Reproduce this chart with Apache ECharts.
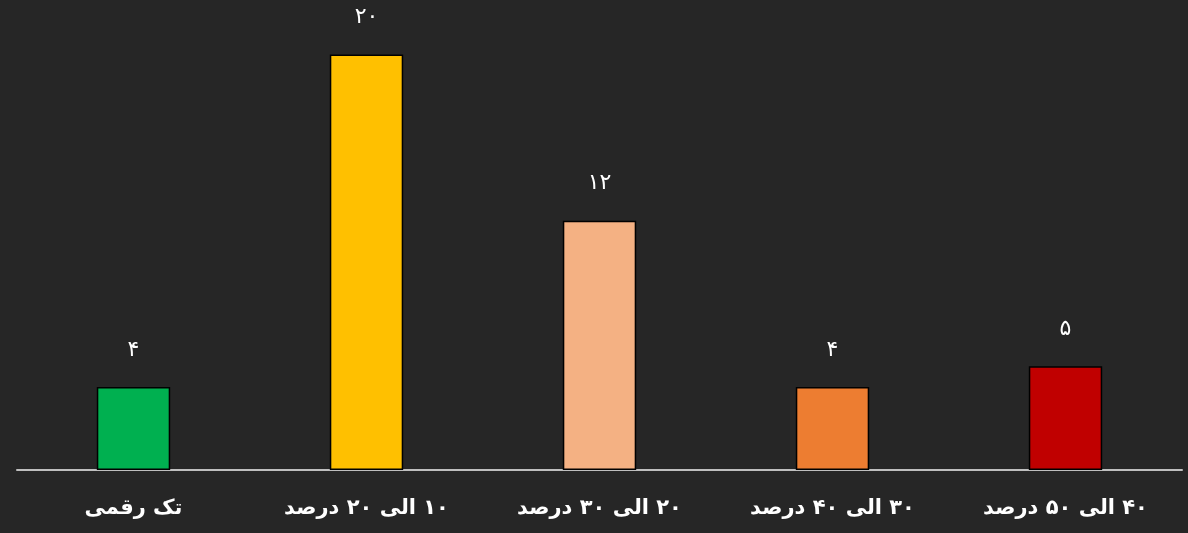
<!DOCTYPE html>
<html>
<head>
<meta charset="utf-8">
<script src="https://cdn.jsdelivr.net/npm/echarts@6/dist/echarts.min.js"></script>
<style>
html,body{margin:0;padding:0;background:#262626;}
#c{width:1188px;height:533px;}
</style>
</head>
<body>
<div id="c" dir="rtl"></div>
<script>
const categories = ["تک رقمی", "۱۰ الی ۲۰ درصد", "۲۰ الی ۳۰ درصد", "۳۰ الی ۴۰ درصد", "۴۰ الی ۵۰ درصد"];
const values = [4, 20, 12, 4, 5];
const colors = ["#00B050", "#FFC000", "#F4B183", "#ED7D31", "#C00000"];

function fa(n){ return String(n).replace(/[0-9]/g, d => "۰۱۲۳۴۵۶۷۸۹"[d]); }

const chart = echarts.init(document.getElementById('c'));
chart.setOption({
  backgroundColor: '#262626',
  animation: false,
  grid: {left: 17, right: 6, top: 13, bottom: 63},
  xAxis: {
    type: 'category',
    data: categories,
    axisLine: {lineStyle: {color: '#BFBFBF', width: 2}},
    axisTick: {show: false},
    axisLabel: {color: '#FFFFFF', fontSize: 21, fontWeight: 'bold', fontFamily: 'DejaVu Sans', margin: 28, interval: 0}
  },
  yAxis: {
    type: 'value', min: 0, max: 22,
    show: false, splitLine: {show: false}
  },
  series: [{
    type: 'bar',
    barWidth: '31.5%',
    data: values.map((v, i) => ({value: v, itemStyle: {color: colors[i], borderColor: '#000000', borderWidth: 1.5}})),
    label: {
      show: true, position: 'top', distance: 26,
      color: '#FFFFFF', fontSize: 22, fontFamily: 'DejaVu Sans',
      formatter: p => fa(p.value)
    }
  }]
});
</script>
</body>
</html>
